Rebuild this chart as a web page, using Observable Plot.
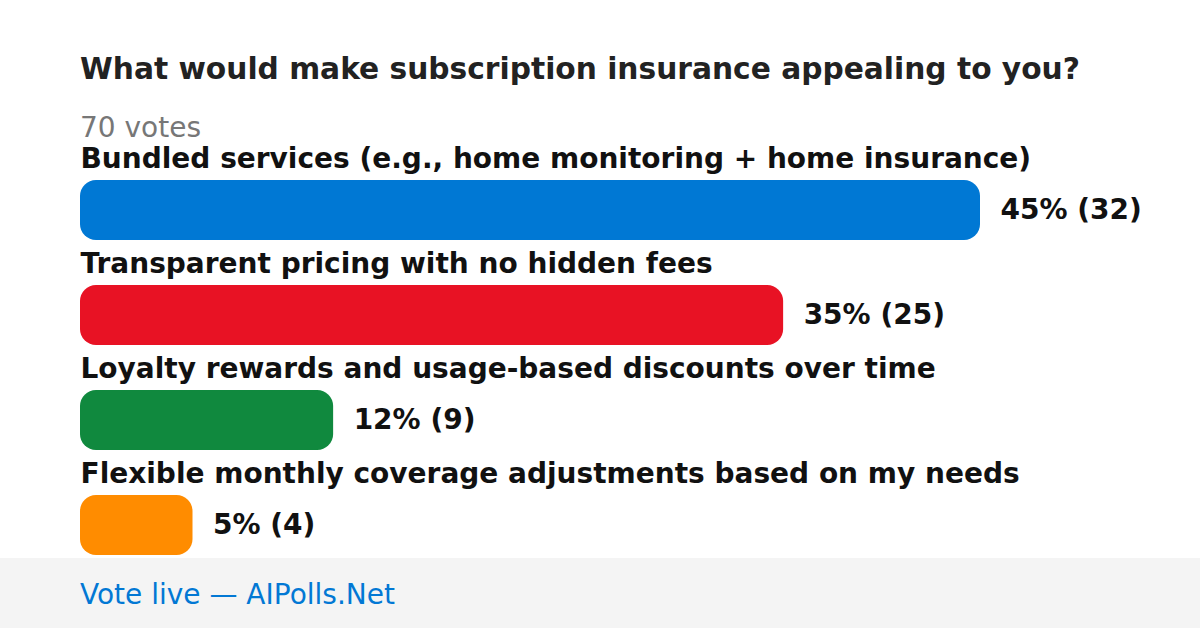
<!DOCTYPE html>
<html>
<head>
<meta charset="utf-8">
<script src="https://cdn.jsdelivr.net/npm/d3@7"></script>
<script src="https://cdn.jsdelivr.net/npm/@observablehq/plot@0.6"></script>
<style>
  html, body { margin: 0; padding: 0; background: #fff; }
  #wrap { position: relative; width: 1200px; height: 628px; overflow: hidden; font-family: "DejaVu Sans", sans-serif; }
  #title { position: absolute; left: 80px; top: 49px; font-size: 29.7px; font-weight: bold; color: #222; line-height: 40px; white-space: nowrap; }
  #sub { position: absolute; left: 80px; top: 109px; font-size: 28px; color: #777; line-height: 38px; white-space: nowrap; }
  #plot { position: absolute; left: 0; top: 140px; }
  #footer { position: absolute; left: 0; top: 558px; width: 1200px; height: 70px; background: #f4f4f4; }
  #footer span { position: absolute; left: 80px; top: 0; line-height: 74px; font-size: 28px; color: #0278d4; white-space: nowrap; }
</style>
</head>
<body>
<div id="wrap">
  <div id="title">What would make subscription insurance appealing to you?</div>
  <div id="sub">70 votes</div>
  <div id="plot"></div>
  <div id="footer"><span>Vote live — AIPolls.Net</span></div>
</div>
<script>
const categories = [
  "Bundled services (e.g., home monitoring + home insurance)",
  "Transparent pricing with no hidden fees",
  "Loyalty rewards and usage-based discounts over time",
  "Flexible monthly coverage adjustments based on my needs"
];
const votes = [32, 25, 9, 4];
const percents = [45, 35, 12, 5];
const colors = ["#0078d4", "#e81224", "#10893e", "#ff8c00"];

const data = categories.map((c, i) => ({label: c, votes: votes[i], pct: percents[i]}));

const chart = Plot.plot({
  width: 1200,
  height: 418,
  margin: 0,
  style: {fontFamily: "DejaVu Sans, sans-serif", background: "transparent", overflow: "visible"},
  x: {domain: [0, 32], range: [80, 980], axis: null},
  y: {domain: categories, range: [40, 415], paddingInner: 3/7, paddingOuter: 0, round: false, axis: null},
  color: {domain: categories, range: colors},
  marks: [
    Plot.barX(data, {x1: 0, x2: "votes", y: "label", fill: "label", rx: 16}),
    Plot.text(data, {x: 0, y: "label", text: "label", dy: -51, textAnchor: "start", lineAnchor: "middle",
      fontSize: 28, fontWeight: "bold", fill: "#111"}),
    Plot.text(data, {x: "votes", y: "label", text: d => `${d.pct}% (${d.votes})`, dx: 20, textAnchor: "start", lineAnchor: "middle",
      fontSize: 28, fontWeight: "bold", fill: "#111"})
  ]
});
document.getElementById("plot").appendChild(chart);
</script>
</body>
</html>
